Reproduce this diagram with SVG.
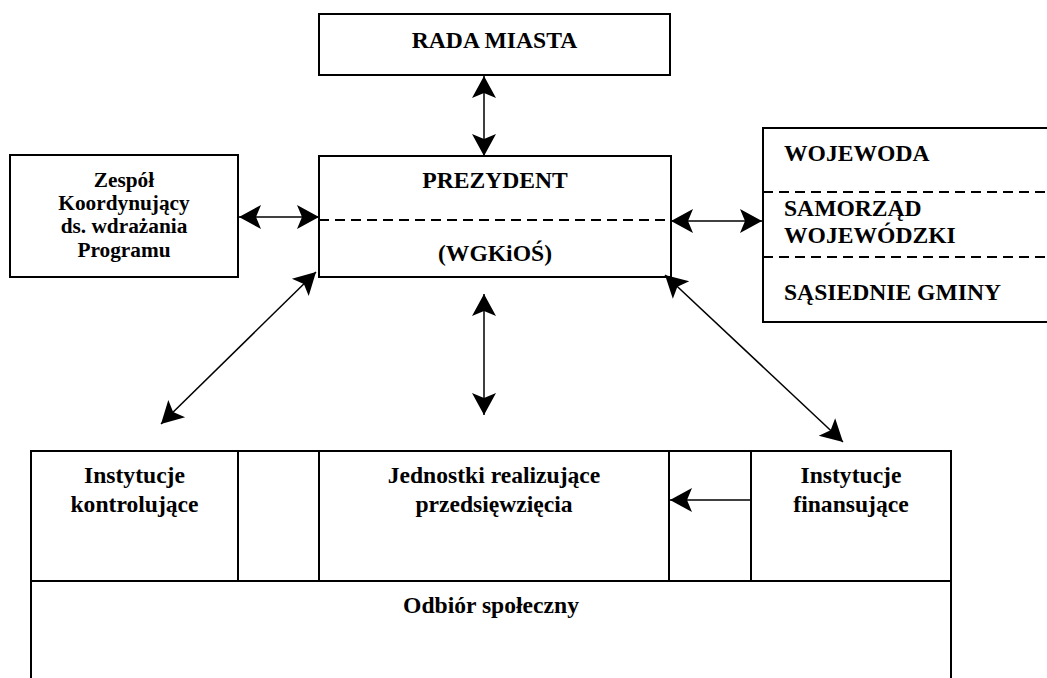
<svg xmlns="http://www.w3.org/2000/svg" width="1047" height="678" viewBox="0 0 1047 678" font-family="'Liberation Serif','Times New Roman',serif">
<style>
.box{fill:#fff;stroke:#000;stroke-width:2}
.ln{fill:none;stroke:#000;stroke-width:2}
.dash{fill:none;stroke:#000;stroke-width:2;stroke-dasharray:10 6}
.con{fill:none;stroke:#000;stroke-width:1.5}
text{font-family:"Liberation Serif","Times New Roman",serif;font-weight:bold;font-size:23.6px;fill:#000}
.c{text-anchor:middle}
.s{font-size:21.3px}
</style>
<defs>
<marker id="ah" viewBox="-23 -13 24 26" refX="0" refY="0" markerWidth="24" markerHeight="26" markerUnits="userSpaceOnUse" orient="auto-start-reverse">
<path d="M0,0 L-22,-12 L-17,0 L-22,12 z" fill="#000"/>
</marker>
</defs>
<rect width="1047" height="678" fill="#fff"/>

<g id="rada">
<rect class="box" x="319" y="14" width="351" height="61"/>
<text class="c" x="494.5" y="48">RADA MIASTA</text>
</g>

<g id="prezydent">
<rect class="box" x="319" y="156" width="352" height="121"/>
<line class="dash" x1="319" y1="220" x2="671" y2="220"/>
<text class="c" x="495" y="188">PREZYDENT</text>
<text class="c" x="495" y="261">(WGKiOŚ)</text>
</g>

<g id="zespol">
<rect class="box" x="10" y="155" width="228" height="122"/>
<text class="c s" x="124" y="187">Zespół</text>
<text class="c s" x="124" y="210">Koordynujący</text>
<text class="c s" x="124" y="233">ds. wdrażania</text>
<text class="c s" x="124" y="257">Programu</text>
</g>

<g id="wojewoda">
<rect class="box" x="763" y="128" width="300" height="194"/>
<line class="dash" x1="763" y1="192" x2="1047" y2="192"/>
<line class="dash" x1="763" y1="257" x2="1047" y2="257"/>
<text x="784" y="161">WOJEWODA</text>
<text x="784" y="216">SAMORZĄD</text>
<text x="784" y="243">WOJEWÓDZKI</text>
<text x="784" y="300">SĄSIEDNIE GMINY</text>
</g>

<g id="dolna-tabela">
<path class="ln" d="M31,690 V451 H951 V690"/>
<line class="ln" x1="31" y1="581" x2="951" y2="581"/>
<line class="ln" x1="238" y1="451" x2="238" y2="581"/>
<line class="ln" x1="319" y1="451" x2="319" y2="581"/>
<line class="ln" x1="669" y1="451" x2="669" y2="581"/>
<line class="ln" x1="751" y1="451" x2="751" y2="581"/>
</g>

<g id="kontrolujace">
<text class="c" x="134.5" y="483">Instytucje</text>
<text class="c" x="134.5" y="512">kontrolujące</text>
</g>

<g id="jednostki">
<text class="c" x="494" y="483">Jednostki realizujące</text>
<text class="c" x="494" y="512">przedsięwzięcia</text>
</g>

<g id="finansujace">
<text class="c" x="851" y="483">Instytucje</text>
<text class="c" x="851" y="512">finansujące</text>
</g>

<g id="odbior">
<text class="c" x="491" y="613">Odbiór społeczny</text>
</g>

<g id="connectors">
<line class="con" x1="484" y1="76" x2="484" y2="156" marker-start="url(#ah)" marker-end="url(#ah)"/>
<line class="con" x1="239" y1="217" x2="319" y2="217" marker-start="url(#ah)" marker-end="url(#ah)"/>
<line class="con" x1="671" y1="221" x2="762" y2="221" marker-start="url(#ah)" marker-end="url(#ah)"/>
<line class="con" x1="316" y1="272" x2="161" y2="424" marker-start="url(#ah)" marker-end="url(#ah)"/>
<line class="con" x1="484" y1="294" x2="484" y2="415" marker-start="url(#ah)" marker-end="url(#ah)"/>
<line class="con" x1="665" y1="275" x2="843" y2="442" marker-start="url(#ah)" marker-end="url(#ah)"/>
<line class="con" x1="751" y1="500" x2="670" y2="500" marker-end="url(#ah)"/>
</g>
</svg>
